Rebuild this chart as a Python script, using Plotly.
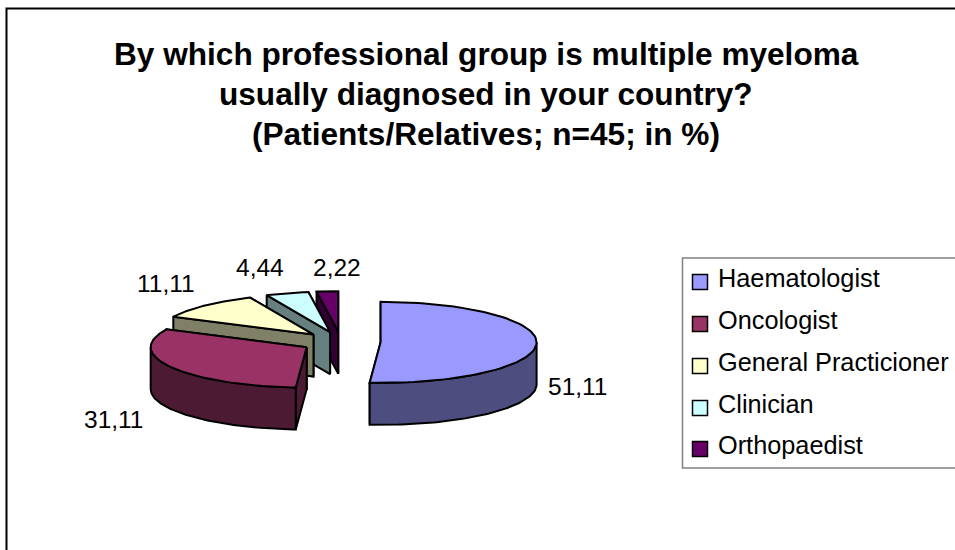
import numpy as np
import plotly.graph_objects as go

# Data
categories = ["Haematologist", "Oncologist", "General Practicioner", "Clinician", "Orthopaedist"]
values = [51.11, 31.11, 11.11, 4.44, 2.22]
top_colors = ["#9999FF", "#993366", "#FFFFCC", "#CCFFFF", "#660066"]
side_colors = ["#4D4D80", "#4D1A33", "#808066", "#668080", "#330033"]
title_lines = ["By which professional group is multiple myeloma",
               "usually diagnosed in your country?",
               "(Patients/Relatives; n=45; in %)"]

# Pie geometry, in page pixels
CX, CY = 341.0, 342.0
RX, RY = 156.0, 40.5
DEPTH = 42.0
EXPLODE = 0.254
LABEL_POS = [(578, 386), (114, 419), (166, 283), (260, 267), (337, 267)]
FONT = "Liberation Sans, Arial, sans-serif"

fig = go.Figure()


def poly(xs, ys, color):
    fig.add_trace(go.Scatter(
        x=list(xs) + [xs[0]], y=list(ys) + [ys[0]], mode="lines", fill="toself",
        fillcolor=color, line=dict(color="black", width=2),
        hoverinfo="skip", showlegend=False))


total = sum(values)
edges = np.concatenate([[0], np.cumsum(values)]) / total * 2 * np.pi

# Back slices first: the last category sits furthest back
for i in range(len(values) - 1, -1, -1):
    a0, a1 = edges[i], edges[i + 1]
    mid = (a0 + a1) / 2
    ox = CX + EXPLODE * RX * np.sin(mid)
    oy = CY - EXPLODE * RY * np.cos(mid)
    t = np.linspace(a0, a1, 80)
    ax = ox + RX * np.sin(t)
    ay = oy - RY * np.cos(t)
    # cut faces: the trailing one is hidden by the slice, so it goes first
    for a in (a1, a0):
        ex = ox + RX * np.sin(a)
        ey = oy - RY * np.cos(a)
        poly([ox, ex, ex, ox], [oy, ey, ey + DEPTH, oy + DEPTH], side_colors[i])
    # outer wall, only the part that faces the viewer
    w = np.linspace(max(a0, np.pi / 2), min(a1, 3 * np.pi / 2), 80)
    if w[-1] > w[0]:
        wx = ox + RX * np.sin(w)
        wy = oy - RY * np.cos(w)
        poly(np.concatenate([wx, wx[::-1]]), np.concatenate([wy, wy[::-1] + DEPTH]), side_colors[i])
    # top face
    poly(np.concatenate([[ox], ax]), np.concatenate([[oy], ay]), top_colors[i])

# Legend swatches
legend_y = [282, 324, 366, 408, 449]
fig.add_trace(go.Scatter(
    x=[700] * len(categories), y=legend_y, mode="markers",
    marker=dict(symbol="square", size=15, color=top_colors, line=dict(color="black", width=1.5)),
    hoverinfo="skip", showlegend=False))

annotations = []
for line, y in zip(title_lines, [54, 94, 134]):
    annotations.append(dict(x=486, y=y, text=f"<b>{line}</b>", showarrow=False, xanchor="center",
                            yanchor="middle", font=dict(family=FONT, size=31.6, color="black")))
for v, (x, y) in zip(values, LABEL_POS):
    annotations.append(dict(x=x, y=y, text=f"{v:.2f}".replace(".", ","), showarrow=False,
                            xanchor="center", yanchor="middle",
                            font=dict(family=FONT, size=24.5, color="black")))
for c, y in zip(categories, legend_y):
    annotations.append(dict(x=716, y=y - 4, text=c, showarrow=False, xanchor="left", yanchor="middle",
                            font=dict(family=FONT, size=25.3, color="black")))

shapes = [
    dict(type="rect", x0=6.5, y0=8.5, x1=975, y1=570, line=dict(color="black", width=2)),
    dict(type="rect", x0=682.5, y0=258, x1=975, y1=468, line=dict(color="#808080", width=1.5)),
]

fig.update_layout(
    width=955, height=550, margin=dict(l=0, r=0, t=0, b=0), autosize=False,
    paper_bgcolor="white", plot_bgcolor="white", showlegend=False,
    xaxis=dict(range=[0, 955], visible=False, fixedrange=True, domain=[0, 1]),
    yaxis=dict(range=[550, 0], visible=False, fixedrange=True, domain=[0, 1]),
    annotations=annotations, shapes=shapes,
)
fig.write_html("out.html", config={"displayModeBar": False},
               post_script="document.body.style.margin='0';document.documentElement.style.overflow='hidden';")
